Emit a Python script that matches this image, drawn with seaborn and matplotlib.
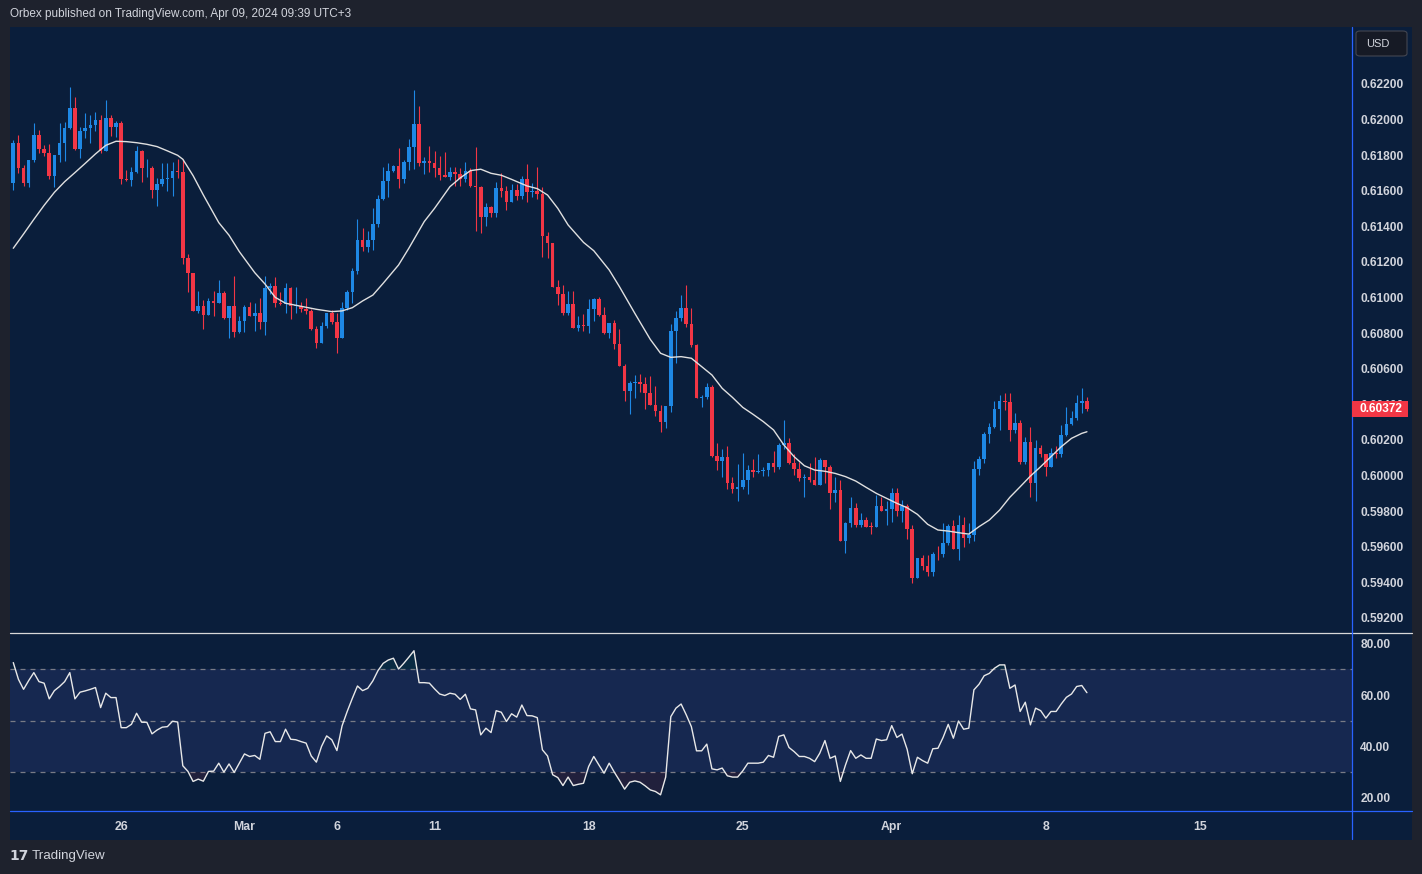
import numpy as np
import matplotlib
matplotlib.use("Agg")
import matplotlib.pyplot as plt
import seaborn as sns
from matplotlib import font_manager
from matplotlib.patches import Rectangle, FancyBboxPatch
from matplotlib.lines import Line2D

# ---------------- data (4h candles) ----------------
first_open = 0.61646
closes = [
    0.61870, 0.61726, 0.61646, 0.61773, 0.61913, 0.61833, 0.61814, 0.61685, 0.61801, 0.61870,
    0.61955, 0.62067, 0.61835, 0.61936, 0.61955, 0.61970, 0.61998, 0.61824, 0.62011, 0.61960,
    0.61979, 0.61666, 0.61661, 0.61707, 0.61824, 0.61726, 0.61728, 0.61604, 0.61638, 0.61666,
    0.61670, 0.61711, 0.61704, 0.61224, 0.61136, 0.60926, 0.60953, 0.60902, 0.60981, 0.60968,
    0.61028, 0.60887, 0.60953, 0.60808, 0.60868, 0.60945, 0.60898, 0.60915, 0.60865, 0.61052,
    0.61065, 0.60968, 0.60964, 0.61052, 0.60953, 0.60955, 0.60934, 0.60925, 0.60822, 0.60747,
    0.60840, 0.60911, 0.60865, 0.60771, 0.60940, 0.61031, 0.61149, 0.61324, 0.61286, 0.61324,
    0.61413, 0.61554, 0.61655, 0.61711, 0.61739, 0.61666, 0.61762, 0.61844, 0.61975, 0.61758,
    0.61766, 0.61758, 0.61726, 0.61689, 0.61679, 0.61704, 0.61694, 0.61664, 0.61713, 0.61627,
    0.61623, 0.61455, 0.61511, 0.61473, 0.61614, 0.61599, 0.61539, 0.61604, 0.61573, 0.61666,
    0.61595, 0.61596, 0.61582, 0.61348, 0.61305, 0.61061, 0.61020, 0.60915, 0.60964, 0.60831,
    0.60846, 0.60840, 0.60936, 0.60992, 0.60902, 0.60799, 0.60859, 0.60739, 0.60617, 0.60477,
    0.60518, 0.60524, 0.60514, 0.60466, 0.60396, 0.60365, 0.60303, 0.60391, 0.60812, 0.60887,
    0.60943, 0.60852, 0.60734, 0.60434, 0.60439, 0.60499, 0.60112, 0.60084, 0.60102, 0.59956,
    0.59924, 0.59934, 0.59975, 0.60031, 0.60022, 0.60027, 0.60032, 0.60069, 0.60050, 0.60172,
    0.60185, 0.60069, 0.60037, 0.59988, 0.59994, 0.59975, 0.59947, 0.60087, 0.60050, 0.59904,
    0.59919, 0.59634, 0.59735, 0.59819, 0.59722, 0.59750, 0.59713, 0.59712, 0.59829, 0.59803,
    0.59810, 0.59904, 0.59803, 0.59831, 0.59700, 0.59426, 0.59539, 0.59494, 0.59460, 0.59559,
    0.59557, 0.59623, 0.59718, 0.59587, 0.59722, 0.59651, 0.59666, 0.60037, 0.60093, 0.60233,
    0.60275, 0.60374, 0.60419, 0.60415, 0.60256, 0.60297, 0.60074, 0.60190, 0.59960, 0.60153,
    0.60121, 0.60050, 0.60125, 0.60120, 0.60228, 0.60290, 0.60321, 0.60409, 0.60419, 0.60372,
]
highs = [
    0.61885, 0.61913, 0.61745, 0.61773, 0.61983, 0.61942, 0.61857, 0.61863, 0.61801, 0.61983,
    0.61988, 0.62185, 0.62129, 0.61960, 0.62039, 0.62026, 0.62045, 0.62026, 0.62110, 0.62026,
    0.61994, 0.61994, 0.61717, 0.61732, 0.61852, 0.61829, 0.61779, 0.61739, 0.61670, 0.61754,
    0.61758, 0.61764, 0.61779, 0.61779, 0.61245, 0.61140, 0.61037, 0.60986, 0.60996, 0.61039,
    0.61099, 0.61039, 0.60953, 0.61121, 0.60896, 0.60958, 0.60977, 0.60968, 0.60996, 0.61121,
    0.61080, 0.61114, 0.61033, 0.61084, 0.61061, 0.61058, 0.60977, 0.60996, 0.60934, 0.60842,
    0.60865, 0.60911, 0.60930, 0.60911, 0.60977, 0.61043, 0.61168, 0.61440, 0.61389, 0.61374,
    0.61501, 0.61576, 0.61732, 0.61758, 0.61745, 0.61839, 0.61773, 0.61889, 0.62166, 0.62076,
    0.61788, 0.61852, 0.61825, 0.61796, 0.61820, 0.61732, 0.61732, 0.61726, 0.61764, 0.61726,
    0.61848, 0.61627, 0.61530, 0.61515, 0.61651, 0.61698, 0.61627, 0.61638, 0.61636, 0.61683,
    0.61751, 0.61646, 0.61732, 0.61619, 0.61370, 0.61309, 0.61099, 0.61071, 0.61039, 0.61039,
    0.60896, 0.60906, 0.60990, 0.60999, 0.61005, 0.60949, 0.60859, 0.60874, 0.60823, 0.60625,
    0.60531, 0.60565, 0.60569, 0.60556, 0.60559, 0.60503, 0.60396, 0.60391, 0.60850, 0.60925,
    0.61014, 0.61071, 0.60943, 0.60739, 0.60453, 0.60518, 0.60509, 0.60185, 0.60149, 0.60166,
    0.59994, 0.60065, 0.60129, 0.60059, 0.60091, 0.60121, 0.60050, 0.60072, 0.60138, 0.60181,
    0.60312, 0.60209, 0.60120, 0.60078, 0.60009, 0.60072, 0.60106, 0.60097, 0.60069, 0.60059,
    0.59994, 0.59975, 0.59741, 0.59881, 0.59848, 0.59791, 0.59769, 0.59741, 0.59891, 0.59881,
    0.59859, 0.59932, 0.59932, 0.59862, 0.59838, 0.59722, 0.59539, 0.59554, 0.59552, 0.59572,
    0.59604, 0.59731, 0.59726, 0.59750, 0.59778, 0.59769, 0.59731, 0.60082, 0.60110, 0.60243,
    0.60297, 0.60419, 0.60453, 0.60462, 0.60462, 0.60350, 0.60312, 0.60218, 0.60275, 0.60200,
    0.60172, 0.60115, 0.60153, 0.60166, 0.60284, 0.60387, 0.60363, 0.60453, 0.60490, 0.60439,
]
lows = [
    0.61604, 0.61702, 0.61627, 0.61623, 0.61764, 0.61810, 0.61796, 0.61664, 0.61623, 0.61764,
    0.61769, 0.61947, 0.61829, 0.61786, 0.61895, 0.61870, 0.61938, 0.61814, 0.61824, 0.61908,
    0.61904, 0.61636, 0.61657, 0.61627, 0.61702, 0.61651, 0.61679, 0.61558, 0.61515, 0.61627,
    0.61601, 0.61573, 0.61674, 0.61187, 0.61033, 0.60926, 0.60915, 0.60822, 0.60902, 0.60896,
    0.60971, 0.60881, 0.60775, 0.60780, 0.60803, 0.60804, 0.60896, 0.60814, 0.60822, 0.60790,
    0.61018, 0.60949, 0.60958, 0.60911, 0.60880, 0.60911, 0.60921, 0.60906, 0.60817, 0.60715,
    0.60742, 0.60831, 0.60852, 0.60690, 0.60771, 0.60930, 0.60971, 0.61131, 0.61264, 0.61258,
    0.61267, 0.61398, 0.61548, 0.61567, 0.61707, 0.61618, 0.61646, 0.61717, 0.61721, 0.61741,
    0.61692, 0.61707, 0.61679, 0.61661, 0.61676, 0.61661, 0.61627, 0.61627, 0.61648, 0.61623,
    0.61376, 0.61361, 0.61404, 0.61455, 0.61455, 0.61567, 0.61492, 0.61539, 0.61548, 0.61554,
    0.61539, 0.61563, 0.61552, 0.61230, 0.61220, 0.61061, 0.60958, 0.60902, 0.60902, 0.60831,
    0.60814, 0.60814, 0.60803, 0.60870, 0.60896, 0.60795, 0.60775, 0.60711, 0.60617, 0.60419,
    0.60346, 0.60434, 0.60471, 0.60374, 0.60396, 0.60336, 0.60247, 0.60269, 0.60359, 0.60634,
    0.60870, 0.60833, 0.60724, 0.60434, 0.60387, 0.60430, 0.60106, 0.60031, 0.59990, 0.59924,
    0.59900, 0.59859, 0.59924, 0.59894, 0.59994, 0.60012, 0.59999, 0.59999, 0.60018, 0.60035,
    0.60149, 0.60065, 0.60003, 0.59969, 0.59881, 0.59966, 0.59947, 0.59947, 0.59956, 0.59810,
    0.59853, 0.59634, 0.59567, 0.59709, 0.59713, 0.59709, 0.59709, 0.59672, 0.59713, 0.59803,
    0.59722, 0.59741, 0.59775, 0.59741, 0.59643, 0.59398, 0.59426, 0.59469, 0.59436, 0.59437,
    0.59525, 0.59544, 0.59610, 0.59587, 0.59525, 0.59600, 0.59619, 0.59634, 0.60003, 0.60069,
    0.60185, 0.60269, 0.60256, 0.60368, 0.60196, 0.60237, 0.60065, 0.60065, 0.59881, 0.59857,
    0.60106, 0.59997, 0.60046, 0.60097, 0.60106, 0.60222, 0.60284, 0.60312, 0.60349, 0.60363,
]
ma_idx = [0, 2, 4, 6, 8, 10, 12, 14, 16, 18, 20, 22, 24, 26, 28, 30, 32, 33, 35, 37,
          40, 42, 44, 47, 49, 51, 53, 56, 59, 62, 64, 66, 68, 70, 72, 75, 77, 80, 82, 85,
          87, 89, 91, 93, 95, 97, 100, 102, 104, 106, 108, 111, 113, 116, 118, 121, 124, 126, 128, 130,
          132, 134, 136, 138, 140, 142, 144, 146, 148, 150, 152, 154, 156, 158, 160, 162, 164, 166, 168, 170,
          172, 174, 176, 178, 180, 182, 184, 186, 188, 190, 192, 194, 196, 198, 200, 202, 204, 206, 208, 209]
ma_val = [0.61277, 0.61357, 0.61439, 0.61518, 0.61591, 0.61651, 0.61702, 0.61754, 0.61807, 0.61855,
          0.61878, 0.61876, 0.61870, 0.61861, 0.61848, 0.61824, 0.61799, 0.61777, 0.61685, 0.61576,
          0.61421, 0.61350, 0.61258, 0.61140, 0.61076, 0.61001, 0.60968, 0.60951, 0.60934, 0.60921,
          0.60925, 0.60943, 0.60981, 0.61014, 0.61080, 0.61183, 0.61277, 0.61427, 0.61501, 0.61623,
          0.61672, 0.61713, 0.61721, 0.61698, 0.61687, 0.61664, 0.61627, 0.61612, 0.61576, 0.61501,
          0.61408, 0.61310, 0.61263, 0.61155, 0.61061, 0.60911, 0.60765, 0.60687, 0.60664, 0.60668,
          0.60659, 0.60612, 0.60565, 0.60490, 0.60439, 0.60383, 0.60344, 0.60303, 0.60256, 0.60172,
          0.60106, 0.60055, 0.60031, 0.60024, 0.60012, 0.59994, 0.59969, 0.59934, 0.59900, 0.59872,
          0.59844, 0.59819, 0.59782, 0.59726, 0.59694, 0.59688, 0.59679, 0.59671, 0.59713, 0.59750,
          0.59806, 0.59878, 0.59937, 0.59997, 0.60050, 0.60106, 0.60162, 0.60209, 0.60237, 0.60246]
rsi = [
    72.6, 66.1, 62.2, 65.6, 68.7, 65.2, 64.6, 58.5, 61.7, 63.3,
    65.2, 68.7, 58.5, 61.1, 61.6, 62.2, 62.9, 55.1, 60.7, 59.0,
    59.0, 47.3, 47.3, 48.6, 52.9, 49.4, 49.4, 44.9, 46.4, 47.5,
    47.7, 49.8, 49.5, 32.5, 30.3, 26.4, 27.3, 26.5, 30.3, 30.4,
    33.5, 30.0, 33.2, 29.9, 33.5, 37.1, 36.1, 36.5, 35.0, 45.1,
    45.7, 41.9, 41.9, 46.7, 42.8, 42.6, 41.9, 41.3, 36.3, 33.9,
    40.0, 44.1, 42.6, 38.4, 48.0, 53.6, 58.7, 63.5, 61.7, 62.6,
    65.5, 69.5, 72.3, 73.6, 74.3, 70.1, 72.3, 74.7, 77.2, 64.8,
    64.8, 64.6, 62.4, 60.4, 59.8, 60.7, 60.3, 58.3, 60.3, 54.6,
    54.2, 44.5, 47.1, 45.4, 53.9, 53.3, 49.7, 52.7, 51.4, 56.1,
    52.0, 51.9, 51.2, 38.7, 36.3, 29.0, 27.9, 24.8, 28.1, 24.8,
    25.3, 25.7, 32.2, 36.1, 32.8, 29.6, 33.5, 30.0, 26.8, 23.4,
    26.1, 26.6, 26.1, 24.7, 23.1, 22.5, 21.2, 28.1, 51.6, 54.9,
    56.5, 52.3, 47.7, 38.3, 38.3, 40.9, 31.3, 30.9, 31.6, 28.6,
    28.1, 28.1, 30.5, 33.5, 33.5, 33.5, 33.9, 36.5, 35.8, 43.9,
    44.5, 39.6, 38.0, 36.1, 36.1, 35.4, 34.1, 37.4, 42.3, 35.4,
    36.3, 26.4, 32.8, 38.4, 35.4, 36.7, 35.4, 35.4, 42.9, 42.3,
    42.6, 48.1, 43.5, 44.8, 38.9, 29.4, 35.8, 34.5, 33.5, 39.1,
    39.3, 43.5, 48.6, 43.2, 49.9, 46.7, 47.1, 62.0, 64.2, 67.5,
    68.4, 70.4, 71.7, 71.7, 62.6, 63.9, 53.6, 57.2, 48.4, 54.9,
    53.9, 51.0, 53.6, 53.6, 56.5, 59.1, 60.4, 63.3, 63.7, 60.9,
]
price_ticks = [0.592, 0.594, 0.596, 0.598, 0.600, 0.602, 0.604, 0.606,
               0.608, 0.610, 0.612, 0.614, 0.616, 0.618, 0.620, 0.622]
rsi_ticks = [20, 40, 60, 80]
time_tick_pos = [21, 45, 63, 82, 112, 142, 171, 201, 231]
time_tick_lab = ["26", "Mar", "6", "11", "18", "25", "Apr", "8", "15"]
last_price = 0.60372

# ---------------- style ----------------
sns.set_theme(style="dark")
names = {f.name for f in font_manager.fontManager.ttflist}
NARROW = "Liberation Sans Narrow" if "Liberation Sans Narrow" in names else "Liberation Sans"
plt.rcParams["font.family"] = ["Liberation Sans", "DejaVu Sans"]

OUTER = "#1e222d"
NAVY = "#0a1e3b"
BAND = "#162850"
BLUE = "#1e88e5"
RED = "#f23645"
TXT = "#d1d4dc"
SEP_BLUE = "#2962ff"

W, H = 1422, 874
fig = plt.figure(figsize=(W / 100, H / 100), dpi=100, facecolor=OUTER)


def fx(px):
    return px / W


def fy(py):
    return 1 - py / H


# panel background
fig.add_artist(Rectangle((fx(10), fy(840)), fx(1412) - fx(10), fy(27) - fy(840),
                         transform=fig.transFigure, facecolor=NAVY, edgecolor="none", zorder=-5))

ax_p = fig.add_axes([fx(10), fy(632), (1352 - 10) / W, (632 - 27) / H])
ax_r = fig.add_axes([fx(10), fy(810), (1352 - 10) / W, (810 - 633) / H])
for ax in (ax_p, ax_r):
    ax.set_facecolor(NAVY)
    for s in ax.spines.values():
        s.set_visible(False)
    ax.grid(False)
    ax.set_xlim(-0.64, 260.6)

# ---------------- candles ----------------
c = np.array(closes)
o = np.r_[first_open, c[:-1]]
hi = np.array(highs)
lo = np.array(lows)
x = np.arange(len(c))
up = c >= o
cols = np.where(up, BLUE, RED)
ax_p.vlines(x, lo, hi, colors=cols, linewidth=0.8, zorder=2)
bottom = np.minimum(o, c)
height = np.maximum(np.abs(c - o), 0.00004)
ax_p.bar(x, height, bottom=bottom, width=0.7, color=cols, linewidth=0, zorder=3)

sns.lineplot(x=ma_idx, y=ma_val, ax=ax_p, color="#e0e0e0", linewidth=1.0,
             estimator=None, sort=False, zorder=4, legend=False)

ax_p.set_ylim(0.59121, 0.62520)
ax_p.set_xticks([])
ax_p.set_xlabel("")
ax_p.set_ylabel("")
ax_p.yaxis.tick_right()
ax_p.set_yticks(price_ticks)
ax_p.set_yticklabels([f"{t:.5f}" for t in price_ticks])
ax_p.tick_params(axis="y", length=0, pad=6, labelsize=8.6, labelcolor=TXT)
for lab in ax_p.get_yticklabels():
    lab.set_fontweight("bold")

# ---------------- RSI ----------------
ri = np.arange(len(rsi))
rv = np.array(rsi)
ax_r.axhspan(30, 70, color=BAND, zorder=0, linewidth=0)
for lvl in (70, 50, 30):
    ax_r.axhline(lvl, color="#787b86", linewidth=0.9, dashes=(4, 4), zorder=1)
ax_r.fill_between(ri, rv, 30, where=rv < 30, interpolate=True, color=RED, alpha=0.10, linewidth=0, zorder=1)
ax_r.fill_between(ri, rv, 70, where=rv > 70, interpolate=True, color="#089981", alpha=0.10, linewidth=0, zorder=1)
sns.lineplot(x=ri, y=rv, ax=ax_r, color="#e8e8e8", linewidth=1.0,
             estimator=None, sort=False, zorder=3, legend=False)
ax_r.set_ylim(15.3, 84.1)
ax_r.set_xlabel("")
ax_r.set_ylabel("")
ax_r.yaxis.tick_right()
ax_r.set_yticks(rsi_ticks)
ax_r.set_yticklabels([f"{t:.2f}" for t in rsi_ticks])
ax_r.tick_params(axis="y", length=0, pad=6, labelsize=8.6, labelcolor=TXT)
for lab in ax_r.get_yticklabels():
    lab.set_fontweight("bold")
ax_r.set_xticks(time_tick_pos)
ax_r.set_xticklabels(time_tick_lab)
ax_r.tick_params(axis="x", length=0, pad=8, labelsize=8.8, labelcolor=TXT)
for lab in ax_r.get_xticklabels():
    lab.set_fontfamily(NARROW)
    lab.set_fontweight("bold")

# ---------------- separators ----------------
fig.add_artist(Line2D([fx(10), fx(1412)], [fy(632.5), fy(632.5)], transform=fig.transFigure,
                      color="#d8d8d8", linewidth=0.9, zorder=6))
fig.add_artist(Line2D([fx(10), fx(1412)], [fy(811), fy(811)], transform=fig.transFigure,
                      color=SEP_BLUE, linewidth=0.9, zorder=6))
fig.add_artist(Line2D([fx(1352), fx(1352)], [fy(27), fy(839)], transform=fig.transFigure,
                      color=SEP_BLUE, linewidth=0.9, zorder=6))

# ---------------- last price label & USD box ----------------
fig.add_artist(Rectangle((fx(1352), fy(417)), fx(1408) - fx(1352), fy(401) - fy(417),
                         transform=fig.transFigure, facecolor=RED, edgecolor="none", zorder=8))
fig.text(fx(1360), fy(409.5), f"{last_price:.5f}", color="white", fontsize=8.6,
         fontweight="bold", ha="left", va="center", zorder=9)
fig.add_artist(FancyBboxPatch((fx(1356), fy(56)), fx(1407) - fx(1356), fy(31) - fy(56),
                              boxstyle="round,pad=0,rounding_size=0.003", transform=fig.transFigure,
                              facecolor="#161a25", edgecolor="#434651", linewidth=0.8, zorder=8))
fig.text(fx(1366), fy(44), "USD", color=TXT, fontsize=8, ha="left", va="center", zorder=9)

# ---------------- header / footer ----------------
fig.text(fx(10), fy(14), "Orbex published on TradingView.com, Apr 09, 2024 09:39 UTC+3",
         color=TXT, fontsize=8.5, ha="left", va="center")
fig.text(fx(9), fy(856), "17", color=TXT, fontsize=10, fontweight="bold",
         ha="left", va="center", family=["DejaVu Sans"])
fig.text(fx(32), fy(856), "TradingView", color=TXT, fontsize=9.6, ha="left", va="center",
         family=[NARROW, "DejaVu Sans"])

fig.savefig("out.png", dpi=100, facecolor=OUTER)
